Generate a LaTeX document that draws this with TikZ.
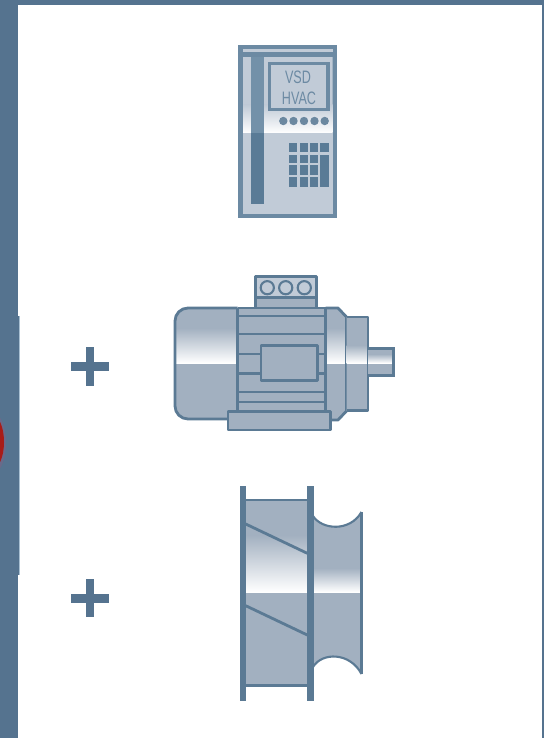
\documentclass[tikz,border=0pt]{standalone}
\usepackage{fontspec}
\setmainfont{Liberation Sans}
\definecolor{band}{HTML}{55738F}
\definecolor{edgeblue}{HTML}{5B7A94}
\definecolor{steel}{HTML}{A2B0C0}
\definecolor{cabframe}{HTML}{6C8AA3}
\definecolor{cabpale}{HTML}{C1CBD7}
\definecolor{cabbar}{HTML}{5A7B96}
\definecolor{cabbarlight}{HTML}{7391A9}
\definecolor{redspot}{HTML}{A81C18}
\definecolor{halo}{HTML}{6A6A8A}
\definecolor{paleedge}{HTML}{A9C0D2}
\tikzset{
  outline/.style={draw=edgeblue,line width=2.8pt,line join=round},
  thin outline/.style={draw=edgeblue,line width=2.1pt},
  plus bar/.style={fill=band,draw=none},
  cab text/.style={text=cabframe,font=\fontsize{18}{18}\selectfont,xscale=0.7,inner sep=0pt},
  key cell/.style={fill=cabbar,draw=none},
}
\newcommand{\metal}[4][steel]{%
  \begin{scope}
    \clip #2;
    \fill[#1] (0,0) rectangle (544,738);
    \shade[top color=#1,bottom color=white] (0,#3) rectangle (544,#4);
  \end{scope}}
\begin{document}
\begin{tikzpicture}[x=1pt,y=-1pt]
\useasboundingbox (0,0) rectangle (544,738);
\begin{scope}
\clip (0,0) rectangle (544,738);
\fill[white] (0,0) rectangle (544,738);
% frame
\fill[band] (0,0) rectangle (18,738);
\fill[band] (0,0) rectangle (544,5);
\fill[band] (542,0) rectangle (544,738);
\fill[paleedge] (18,316) rectangle (19.6,575);
\fill[band] (18,316) rectangle (18.8,575);
\fill[halo] (-9,443) ellipse [x radius=15,y radius=32];
\fill[redspot] (-8,442) ellipse [x radius=12,y radius=27];
\end{scope}

% plus signs
\fill[plus bar] (71,362) rectangle (108.7,371);
\fill[plus bar] (85.7,347.3) rectangle (94.3,385.7);
\fill[plus bar] (71,594) rectangle (108.7,602.7);
\fill[plus bar] (85.7,579.3) rectangle (94.3,617.3);

% ---------- drive cabinet ----------
\fill[cabframe] (237.5,45) rectangle (337,218);
\metal[cabpale]{(243,52) rectangle (332.5,133)}{105}{133}
\fill[cabpale] (243,133) rectangle (332.5,213.5);
\fill[cabpale] (243,49.5) rectangle (332.5,52);
\fill[cabframe] (243,52) rectangle (332.5,57);
\fill[cabbarlight] (251,57) rectangle (263.5,133);
\fill[cabbar] (251,133) rectangle (263.5,204);
\fill[cabframe] (268,62) rectangle (329.5,111);
\fill[cabpale] (271,65) rectangle (326,108);
\node[cab text,draw=none] (vsd) at (298,77) {VSD};
\node[cab text,draw=none] (hvac) at (299,98) {HVAC};
\foreach \px in {283.3,293.5,304,314.5,324.7}
  \fill[cabbar!90!white] (\px,121) circle (4.2);
\foreach \ya/\yb in {143.3/152,154.7/163.3,165.3/175.3,177.3/186.7}
  \foreach \xa/\xb in {289.3/297.3,299.7/307.7,309.7/317.7}
    \fill[key cell] (\xa,\ya) rectangle (\xb,\yb);
\fill[key cell] (320,143.3) rectangle (329.3,152);
\fill[key cell] (320,154.7) rectangle (329.3,186.7);

% ---------- motor ----------
% terminal box
\fill[cabpale] (255.5,276.5) rectangle (316,297);
\fill[steel] (255.5,297) rectangle (316,308);
\draw[outline] (255.3,276.3) rectangle (316.2,309);
\draw[outline] (255.3,297.5) -- (316.2,297.5);
\foreach \px in {267.3,285.7,304.3}
  \draw[thin outline] (\px,287.7) circle (6.6);
% rear housing
\metal{[rounded corners=13pt] (240,308) -- (175,308) -- (175,419) -- (240,419) [sharp corners] -- cycle}{328}{363}
\draw[outline,rounded corners=13pt] (237.5,308) -- (175,308) -- (175,419) -- (237.5,419);
% front shield
\metal{(325.7,308) -- (338,308) -- (346.5,317) -- (346.5,411) -- (338,420) -- (325.7,420) -- cycle}{328}{363}
\draw[outline] (325.7,308) -- (338,308) -- (346.5,317) -- (346.5,411) -- (338,420) -- (325.7,420);
% bearing collar
\metal{(346.5,317) rectangle (368,410.5)}{345}{363}
\draw[outline] (346.5,317) -- (368,317) -- (368,410.5) -- (346.5,410.5);
% shaft
\metal{(368,348.5) rectangle (393.5,375.5)}{354}{363}
\draw[outline] (368,348.5) -- (393.5,348.5) -- (393.5,375.5) -- (368,375.5);
\fill[edgeblue] (391.5,347.1) rectangle (395,376.9);
% central body
\fill[steel] (237.5,308) rectangle (325.7,412);
\draw[outline] (237.5,308) -- (325.7,308);
\draw[outline] (237.5,308) -- (237.5,412);
\draw[outline] (325.7,308) -- (325.7,412);
\foreach \ly in {315.8,334.3,391.7,401.7}
  \draw[thin outline] (237.5,\ly) -- (325.7,\ly);
\draw[thin outline] (237.5,354) -- (260.7,354);
\draw[thin outline] (237.5,373.5) -- (260.7,373.5);
\draw[thin outline] (317.3,354) -- (325.7,354);
\draw[thin outline] (317.3,373.5) -- (325.7,373.5);
\draw[outline,fill=steel] (261,345.5) rectangle (317.3,380.5);
% foot
\draw[outline,fill=steel] (228,411.2) rectangle (330.3,430);

% ---------- fan ----------
% right wheel
\metal{(313,516) .. controls (322,530) and (350,532) .. (362,512) -- (362,674) .. controls (350,652) and (322,652) .. (313,667) -- cycle}{568}{592}
\draw[thin outline] (313,516) .. controls (322,530) and (350,532) .. (361.5,512);
\draw[thin outline] (361.5,674) .. controls (350,652) and (322,652) .. (313,667);
\draw[outline] (361.3,512) -- (361.3,674);
% left wheel
\metal{(245,500) rectangle (308,685.5)}{535}{592}
\draw[thin outline] (243,500) -- (310,500);
\draw[thin outline] (243,685.5) -- (310,685.5);
\draw[outline] (245.7,524) -- (307.3,553.3);
\draw[outline] (245.7,605.7) -- (307.3,635);
\fill[edgeblue] (240.3,485.7) rectangle (245.7,700.7);
\fill[edgeblue] (307.3,485.7) rectangle (313.7,700.7);
\end{tikzpicture}
\end{document}
